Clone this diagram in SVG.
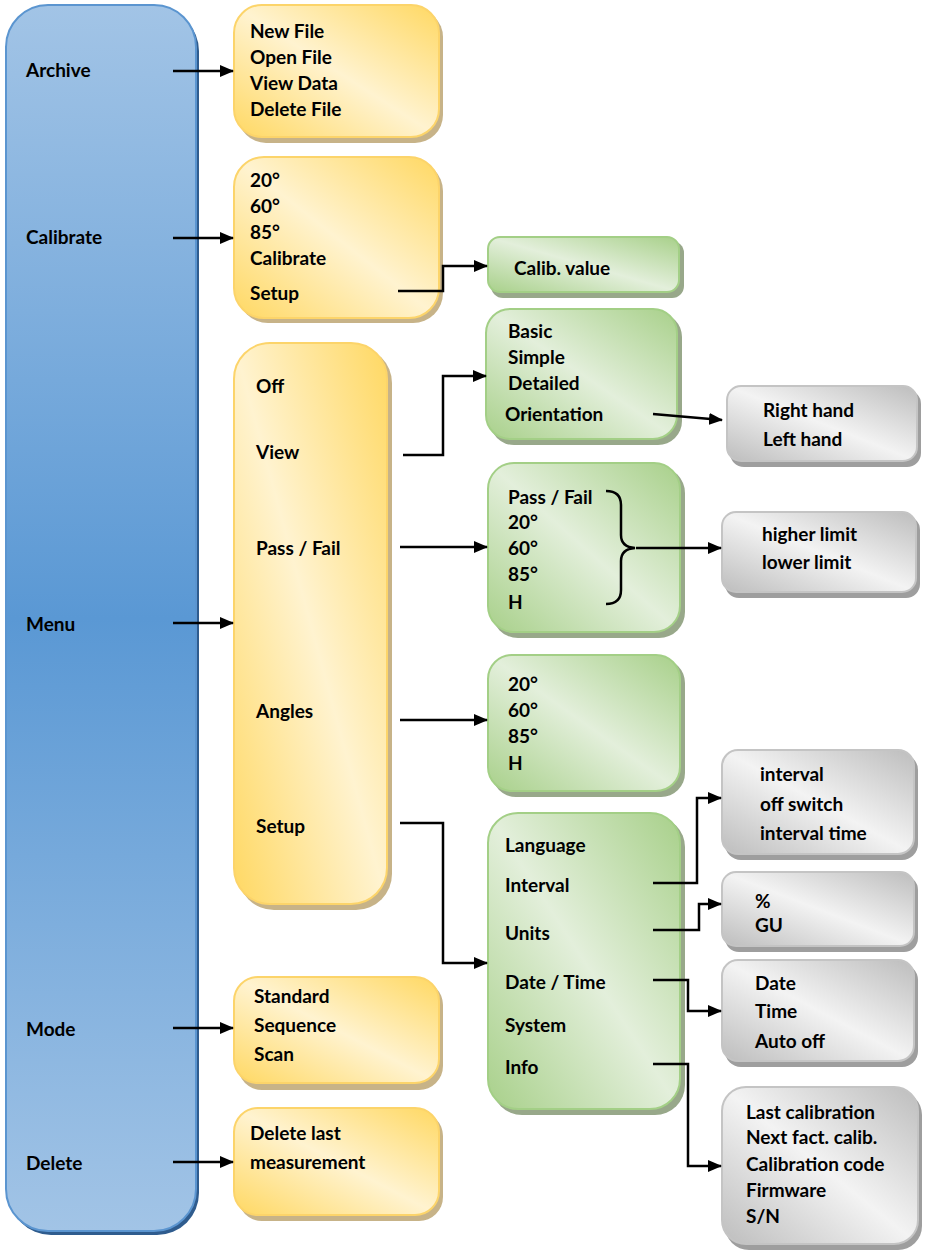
<svg xmlns="http://www.w3.org/2000/svg" width="935" height="1252" viewBox="0 0 935 1252">
<defs>
<linearGradient id="gBlue" x1="0" y1="0" x2="0" y2="1">
<stop offset="0" stop-color="#a2c4e6"/>
<stop offset="0.5" stop-color="#5a98d4"/>
<stop offset="1" stop-color="#a2c4e6"/>
</linearGradient>
<linearGradient id="gYel" x1="0" y1="1" x2="1" y2="0">
<stop offset="0" stop-color="#ffd862"/>
<stop offset="0.5" stop-color="#fff3d0"/>
<stop offset="1" stop-color="#ffd862"/>
</linearGradient>
<linearGradient id="gGrn" x1="0" y1="1" x2="1" y2="0">
<stop offset="0" stop-color="#a8d08a"/>
<stop offset="0.5" stop-color="#e3efdb"/>
<stop offset="1" stop-color="#a8d08a"/>
</linearGradient>
<linearGradient id="gGry" x1="0" y1="1" x2="1" y2="0">
<stop offset="0" stop-color="#bdbdbd"/>
<stop offset="0.5" stop-color="#f3f3f3"/>
<stop offset="1" stop-color="#bdbdbd"/>
</linearGradient>
<marker id="arr" markerWidth="14" markerHeight="12" refX="13" refY="6" orient="auto" markerUnits="userSpaceOnUse">
<path d="M0,0 L14,6 L0,12 Z" fill="#000"/>
</marker>
</defs>
<style>
text{font-family:Lato,"Liberation Sans",sans-serif;font-weight:bold;font-size:19px;fill:#000}
.yel{fill:url(#gYel);stroke:#fcd46a;stroke-width:2}
.ysh{fill:#c7b388}
.grn{fill:url(#gGrn);stroke:#a3cf86;stroke-width:2}
.gsh{fill:#98a88a}
.gry{fill:url(#gGry);stroke:#c4c4c4;stroke-width:2}
.rsh{fill:#9e9e9e}
.con{fill:none;stroke:#000;stroke-width:2.5}
.arr{marker-end:url(#arr)}
</style>

<g id="main">
<rect x="9" y="9" width="190" height="1226" rx="42" fill="#2f5c8e"/>
<rect x="6" y="5" width="190" height="1226" rx="42" fill="url(#gBlue)" stroke="#5b95d0" stroke-width="2"/>
<text x="26" y="77">Archive</text>
<text x="26" y="244">Calibrate</text>
<text x="26" y="631">Menu</text>
<text x="26" y="1036">Mode</text>
<text x="26" y="1170">Delete</text>
</g>

<g id="archive">
<rect x="238" y="9" width="205" height="134" rx="28" class="ysh"/>
<rect x="234" y="5" width="205" height="132" rx="28" class="yel"/>
<text x="250" y="38">New File</text>
<text x="250" y="64">Open File</text>
<text x="250" y="90">View Data</text>
<text x="250" y="116">Delete File</text>
</g>

<g id="calibrate">
<rect x="238" y="161" width="205" height="162" rx="30" class="ysh"/>
<rect x="234" y="157" width="205" height="161" rx="30" class="yel"/>
<text x="250" y="187">20°</text>
<text x="250" y="213">60°</text>
<text x="250" y="239">85°</text>
<text x="250" y="265">Calibrate</text>
<text x="250" y="300">Setup</text>
</g>

<g id="menu">
<rect x="238" y="347" width="154" height="563" rx="36" class="ysh"/>
<rect x="234" y="343" width="153" height="561" rx="36" class="yel"/>
<text x="256" y="393">Off</text>
<text x="256" y="459">View</text>
<text x="256" y="555">Pass / Fail</text>
<text x="256" y="718">Angles</text>
<text x="256" y="833">Setup</text>
</g>

<g id="mode">
<rect x="238" y="981" width="205" height="109" rx="24" class="ysh"/>
<rect x="234" y="977" width="205" height="106" rx="24" class="yel"/>
<text x="254" y="1003">Standard</text>
<text x="254" y="1032">Sequence</text>
<text x="254" y="1061">Scan</text>
</g>

<g id="delete">
<rect x="238" y="1112" width="205" height="109" rx="24" class="ysh"/>
<rect x="234" y="1108" width="205" height="107" rx="24" class="yel"/>
<text x="250" y="1140">Delete last</text>
<text x="250" y="1169">measurement</text>
</g>

<g id="calibvalue">
<rect x="491" y="241" width="193" height="57" rx="12" class="gsh"/>
<rect x="488" y="237" width="191" height="55" rx="12" class="grn"/>
<text x="514" y="275">Calib. value</text>
</g>

<g id="view">
<rect x="490" y="313" width="192" height="132" rx="24" class="gsh"/>
<rect x="486" y="309" width="191" height="130" rx="24" class="grn"/>
<text x="508" y="338">Basic</text>
<text x="508" y="364">Simple</text>
<text x="508" y="390">Detailed</text>
<text x="505" y="421">Orientation</text>
</g>

<g id="hand">
<rect x="730" y="390" width="191" height="77" rx="14" class="rsh"/>
<rect x="727" y="386" width="190" height="75" rx="14" class="gry"/>
<text x="763" y="417">Right hand</text>
<text x="763" y="446">Left hand</text>
</g>

<g id="passfail">
<rect x="492" y="467" width="193" height="171" rx="26" class="gsh"/>
<rect x="488" y="463" width="192" height="169" rx="26" class="grn"/>
<text x="508" y="504">Pass / Fail</text>
<text x="508" y="529">20°</text>
<text x="508" y="555">60°</text>
<text x="508" y="581">85°</text>
<text x="508" y="609">H</text>
</g>

<g id="limits">
<rect x="725" y="516" width="195" height="82" rx="14" class="rsh"/>
<rect x="722" y="512" width="194" height="80" rx="14" class="gry"/>
<text x="762" y="541">higher limit</text>
<text x="762" y="569">lower limit</text>
</g>

<g id="angles">
<rect x="492" y="659" width="193" height="138" rx="24" class="gsh"/>
<rect x="488" y="655" width="192" height="136" rx="24" class="grn"/>
<text x="508" y="691">20°</text>
<text x="508" y="717">60°</text>
<text x="508" y="743">85°</text>
<text x="508" y="770">H</text>
</g>

<g id="setup">
<rect x="492" y="817" width="193" height="298" rx="30" class="gsh"/>
<rect x="488" y="813" width="192" height="296" rx="30" class="grn"/>
<text x="505" y="852">Language</text>
<text x="505" y="892">Interval</text>
<text x="505" y="940">Units</text>
<text x="505" y="989">Date / Time</text>
<text x="505" y="1032">System</text>
<text x="505" y="1074">Info</text>
</g>

<g id="interval">
<rect x="725" y="754" width="193" height="106" rx="16" class="rsh"/>
<rect x="722" y="750" width="192" height="104" rx="16" class="gry"/>
<text x="760" y="781">interval</text>
<text x="760" y="811">off switch</text>
<text x="760" y="840">interval time</text>
</g>

<g id="units">
<rect x="725" y="876" width="193" height="76" rx="14" class="rsh"/>
<rect x="722" y="872" width="192" height="74" rx="14" class="gry"/>
<text x="755" y="908">%</text>
<text x="755" y="932">GU</text>
</g>

<g id="datetime">
<rect x="725" y="964" width="193" height="103" rx="16" class="rsh"/>
<rect x="722" y="960" width="192" height="101" rx="16" class="gry"/>
<text x="755" y="990">Date</text>
<text x="755" y="1018">Time</text>
<text x="755" y="1048">Auto off</text>
</g>

<g id="info">
<rect x="725" y="1091" width="197" height="159" rx="24" class="rsh"/>
<rect x="722" y="1087" width="196" height="157" rx="24" class="gry"/>
<text x="746" y="1119">Last calibration</text>
<text x="746" y="1144">Next fact. calib.</text>
<text x="746" y="1171">Calibration code</text>
<text x="746" y="1197">Firmware</text>
<text x="746" y="1223">S/N</text>
</g>

<g id="connectors">
<path class="con arr" d="M173,71 H233"/>
<path class="con arr" d="M173,238 H233"/>
<path class="con arr" d="M173,623 H233"/>
<path class="con arr" d="M173,1028 H233"/>
<path class="con arr" d="M173,1162 H233"/>
<path class="con arr" d="M398,291 H443 V266 H487"/>
<path class="con arr" d="M403,455 H443 V376 H486"/>
<path class="con arr" d="M653,414 L722,420"/>
<path class="con arr" d="M400,547 H487"/>
<path class="con" d="M606,491 Q621,491 621,505 V535 Q621,547 635,548 Q621,549 621,561 V590 Q621,604 606,604"/>
<path class="con arr" d="M636,548 H721"/>
<path class="con arr" d="M400,720 H487"/>
<path class="con arr" d="M400,823 H443 V963 H487"/>
<path class="con arr" d="M653,883 H697 V798 H721"/>
<path class="con arr" d="M653,930 H699 V904 H721"/>
<path class="con arr" d="M653,980 H688 V1011 H721"/>
<path class="con arr" d="M653,1064 H688 V1166 H721"/>
</g>
</svg>
